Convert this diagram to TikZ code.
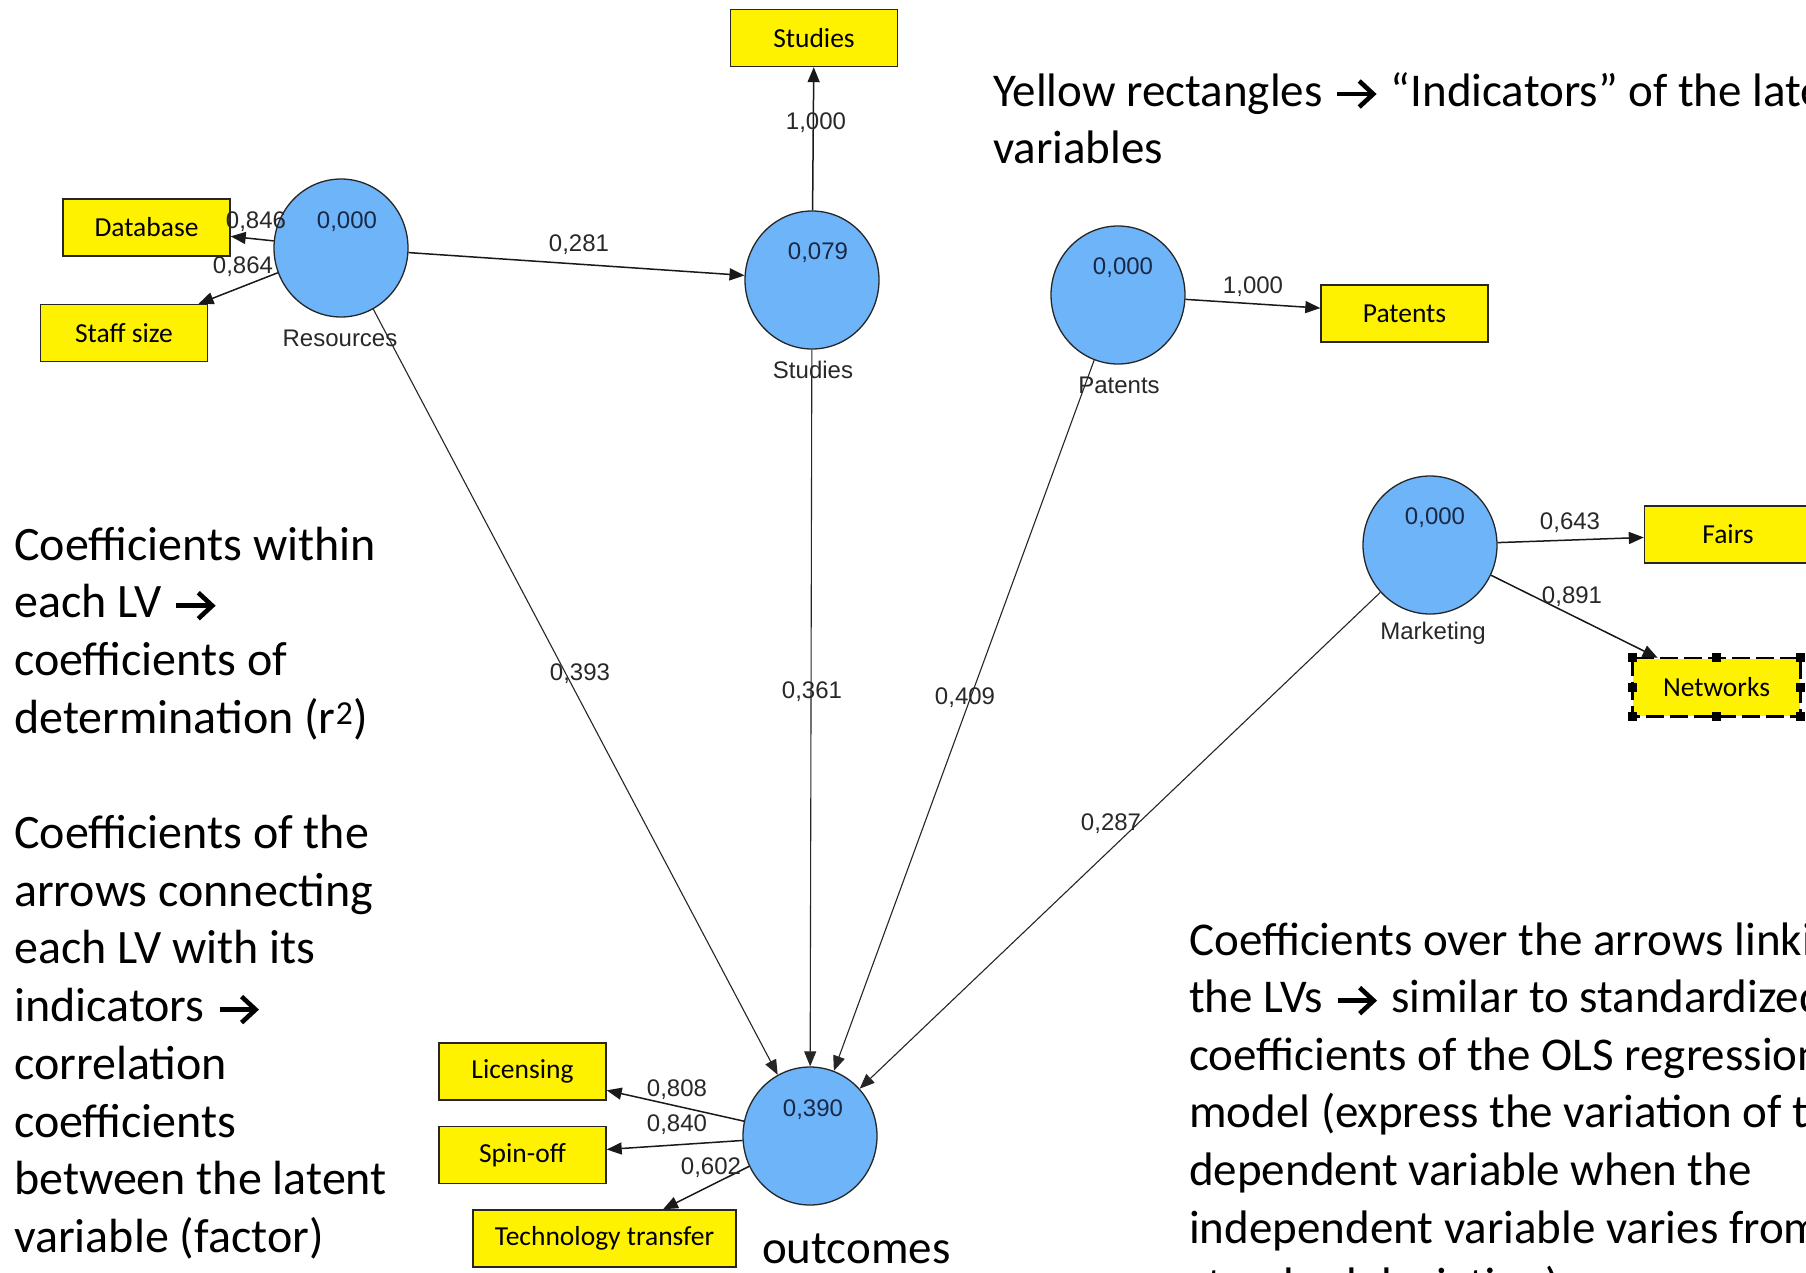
\documentclass[tikz,border=0pt]{standalone}
\usepackage{fontspec}
\setmainfont{Carlito}
\newfontfamily\plsfont{Liberation Sans}
\usetikzlibrary{arrows.meta,shapes.geometric}
\definecolor{lvblue}{RGB}{110,180,248}
\definecolor{lvtext}{RGB}{25,40,70}
\definecolor{labtext}{RGB}{40,40,40}
\newcommand{\rarr}{\tikz[x=1pt,y=1pt,baseline=0pt]{%
  \path (-3,0) (44,0);
  \draw[line width=4.6pt, line cap=butt] (1,12) -- (36,12);
  \draw[line width=4.6pt, line join=miter, line cap=butt] (23,-1) -- (37,12) -- (23,25);}}
\begin{document}
\begin{tikzpicture}[x=1pt,y=-1pt,
  lv/.style={ellipse, draw=black!85, line width=1.3pt, fill=lvblue, minimum width=134pt, minimum height=138pt, inner sep=0pt},
  ind/.style={rectangle, draw=black!85, line width=1.4pt, fill=yellow, minimum width=167pt, minimum height=57pt, inner sep=0pt, font=\fontsize{27.5}{30}\selectfont},
  val/.style={font=\plsfont\fontsize{24}{26}\selectfont, text=lvtext, inner sep=0pt},
  lab/.style={font=\plsfont\fontsize{24}{26}\selectfont, text=labtext, inner sep=0pt},
  coef/.style={font=\plsfont\fontsize{24}{26}\selectfont, text=labtext, inner sep=0pt},
  arr/.style={draw=black!90, line width=1.5pt, -{Triangle[length=15pt,width=12pt]}},
  arrlong/.style={draw=black!85, line width=1.1pt, -{Triangle[length=15pt,width=12pt]}},
  note/.style={font=\fontsize{47}{57.6}\selectfont, anchor=base west, inner sep=0pt},
  leftnote/.style={note, font=\fontsize{48}{57.6}\selectfont},
  handle/.style={fill=black}
]
\useasboundingbox (0,0) rectangle (1806,1272);
\clip (0,0) rectangle (1806,1272);
\fill[white] (0,0) rectangle (1806,1272);

% latent variables
\node[lv] (res) at (341,248) {};
\node[lv] (stu) at (812,280) {};
\node[lv] (pat) at (1118,295) {};
\node[lv] (mkt) at (1430,545) {};
\node[lv] (out) at (810,1136) {};

% indicators
\node[ind] (db) at (146.5,227.5) {Database};
\node[ind] (staff) at (124,333) {Staff size};
\node[ind] (stubox) at (814,38) {Studies};
\node[ind] (patbox) at (1404.5,313.5) {Patents};
\node[ind] (fairs) at (1728,534.5) {Fairs};
\node[ind, draw=none] (net) at (1716.5,687) {Networks};
\node[ind] (lic) at (522.5,1071.5) {Licensing};
\node[ind] (spin) at (522.5,1155) {Spin-off};
\node[ind, minimum width=263pt] (tech) at (604.5,1238.5) {Technology transfer};

% selection frame of Networks
\draw[line width=2.6pt, dash pattern=on 18pt off 6pt] (net.north west) rectangle (net.south east);
\foreach \a in {north west, north, north east, east, south east, south, south west, west}
  \fill[handle] (net.\a) ++(-4.5pt,-4.5pt) rectangle ++(9pt,9pt);

% indicator arrows
\draw[arr] (res) -- (db);
\draw[arr] (res) -- (staff);
\draw[arr] (stu) -- (stubox);
\draw[arr] (pat) -- (patbox);
\draw[arr] (mkt) -- (fairs);
\draw[arr] (mkt) -- (net);
\draw[arr] (out) -- (lic);
\draw[arr] (out) -- (spin);
\draw[arr] (out) -- (tech);

% structural arrows
\draw[arr] (res) -- (stu);
\draw[arrlong] (res) -- (out);
\draw[arrlong] (stu) -- (out);
\draw[arrlong] (pat) -- (out);
\draw[arrlong] (mkt) -- (out);

% values inside LVs
\node[val] (vres) at (347,222) {0,000};
\node[val] (vstu) at (818,253) {0,079};
\node[val] (vpat) at (1123,268) {0,000};
\node[val] (vmkt) at (1435,518) {0,000};
\node[val] (vout) at (813,1110) {0,390};

% LV names
\node[lab] (nres) at (340,338) {Resources};
\node[lab] (nstu) at (813,370) {Studies};
\node[lab] (npat) at (1119,385) {Patents};
\node[lab] (nmkt) at (1433,633) {Marketing};

% coefficients
\node[coef] (c1) at (256,222) {0,846};
\node[coef] (c2) at (243,267) {0,864};
\node[coef] (c3) at (579,245) {0,281};
\node[coef] (c4) at (816,123) {1,000};
\node[coef] (c5) at (1253,287) {1,000};
\node[coef] (c6) at (1570,523) {0,643};
\node[coef] (c7) at (1572,597) {0,891};
\node[coef] (c8) at (580,674) {0,393};
\node[coef] (c9) at (812,692) {0,361};
\node[coef] (c10) at (965,698) {0,409};
\node[coef] (c11) at (1111,824) {0,287};
\node[coef] (c12) at (677,1090) {0,808};
\node[coef] (c13) at (677,1125) {0,840};
\node[coef] (c14) at (711,1168) {0,602};

% annotations
\node[note] (top1) at (993,106) {Yellow rectangles \rarr{} “Indicators” of the latent};
\node[note] (top2) at (993,163) {variables};

\foreach \t [count=\i from 0] in {{Coefficients within},{each LV \rarr},{coefficients of},{determination (r\textsuperscript{2})}}
  \node[leftnote] (la\i) at (14,560+57.7*\i) {\t};
\foreach \t [count=\i from 5] in {{Coefficients of the},{arrows connecting},{each LV with its},{indicators \rarr},{correlation},{coefficients},{between the latent},{variable (factor)}}
  \node[leftnote] (lb\i) at (14,560+57.7*\i) {\t};

\foreach \t [count=\i from 0] in {{Coefficients over the arrows linking},{the LVs \rarr{} similar to standardized},{coefficients of the OLS regression},{model (express the variation of the},{dependent variable when the},{independent variable varies from one},{standard deviation)}}
  \node[note] (r\i) at (1189,955+57.6*\i) {\t};

\node[note] (outlbl) at (762,1263) {outcomes};
\end{tikzpicture}
\end{document}
